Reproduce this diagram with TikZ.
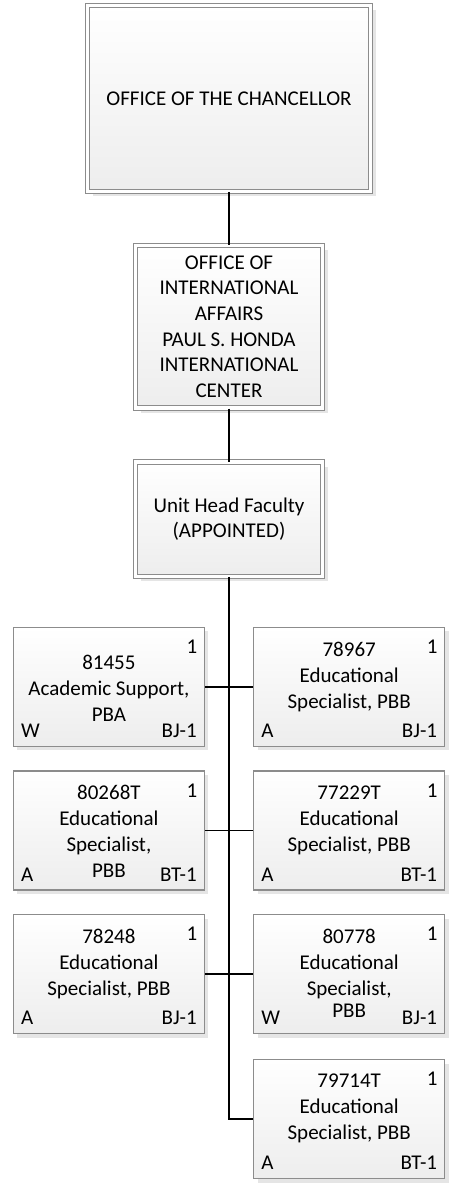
\documentclass[tikz,border=0pt]{standalone}
\usepackage{fontspec}
\setmainfont{Carlito}
\usetikzlibrary{shadows}

\begin{document}
\begin{tikzpicture}[x=1pt,y=-1pt,
    mainbox/.style={draw=black!45, line width=1pt, double=white, double distance=3.3pt,
      top color=white, bottom color=black!7, align=center, inner sep=0pt,
      general shadow={fill=black!10, shadow xshift=5pt, shadow yshift=-5pt},
      font=\fontsize{21}{25.7}\selectfont},
    postag/.style={font=\fontsize{21}{26}\selectfont, inner sep=0pt},
    posbox/.style={draw=black!45, line width=1.2pt, top color=white, bottom color=black!7,
      minimum width=191pt, minimum height=119pt, inner sep=0pt,
      general shadow={fill=black!10, shadow xshift=4pt, shadow yshift=-4pt},
      label={[postag, anchor=base, xshift=-13pt, yshift=-26.7pt]north east:1}},
    stat/.style={label={[postag, anchor=base west, xshift=8pt, yshift=9.5pt]south west:#1}},
    grade/.style={label={[postag, anchor=base east, xshift=-8pt, yshift=9.5pt]south east:#1}},
    postext/.style={font=\fontsize{21}{26}\selectfont, align=center, inner sep=0pt, anchor=north},
    link/.style={line width=1.7pt}]
    \useasboundingbox (0,0) rectangle (449,1183);

    \node[mainbox, minimum width=283pt, minimum height=186pt] (chancellor) at (229,98.3) {OFFICE OF THE CHANCELLOR};
    \node[mainbox, minimum width=187pt, minimum height=162.7pt] (intl) at (229,326.7) {OFFICE OF\\INTERNATIONAL\\AFFAIRS\\PAUL S. HONDA\\INTERNATIONAL\\CENTER};
    \node[mainbox, minimum width=187pt, minimum height=114.4pt] (unithead) at (229,519.2) {Unit Head Faculty\\(APPOINTED)};

    \node[posbox, stat=W, grade=BJ-1] (p81455) at (108.9,686.7) {};
    \node[posbox, stat=A, grade=BJ-1] (p78967) at (349.2,686.7) {};
    \node[posbox, stat=A, grade=BT-1] (p80268T) at (108.9,830.5) {};
    \node[posbox, stat=A, grade=BT-1] (p77229T) at (349.2,830.5) {};
    \node[posbox, stat=A, grade=BJ-1] (p78248) at (108.9,974.3) {};
    \node[posbox, stat=W, grade=BJ-1] (p80778) at (349.2,974.3) {};
    \node[posbox, stat=A, grade=BT-1] (p79714T) at (349.2,1119.3) {};

    \node[postext] (t81455) at ([yshift=-28.4pt]p81455.north) {81455\\Academic Support,\\PBA};
    \node[postext] (t78967) at ([yshift=-14.9pt]p78967.north) {78967\\Educational\\Specialist, PBB};
    \node[postext] (t80268T) at ([yshift=-14.9pt]p80268T.north) {80268T\\Educational\\Specialist,\\PBB};
    \node[postext] (t77229T) at ([yshift=-14.9pt]p77229T.north) {77229T\\Educational\\Specialist, PBB};
    \node[postext] (t78248) at ([yshift=-14.9pt]p78248.north) {78248\\Educational\\Specialist, PBB};
    \node[postext] (t80778) at ([yshift=-14.9pt]p80778.north) {80778\\Educational\\Specialist,\\[-4pt]PBB};
    \node[postext] (t79714T) at ([yshift=-14.9pt]p79714T.north) {79714T\\Educational\\Specialist, PBB};

    \draw[link] (chancellor) -- (intl);
    \draw[link] (intl) -- (unithead);
    \draw[link] (unithead) |- (p79714T);
    \draw[link] (p81455) -- (p78967);
    \draw[link] (p80268T) -- (p77229T);
    \draw[link] (p78248) -- (p80778);
\end{tikzpicture}
\end{document}
